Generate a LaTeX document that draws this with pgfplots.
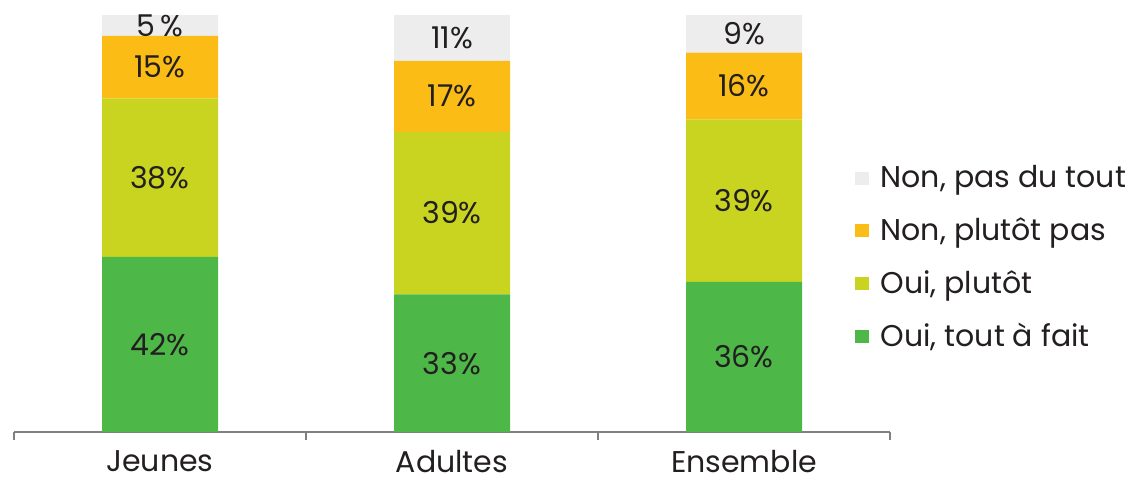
\documentclass[border=0pt]{standalone}
\usepackage{fontspec}
\setmainfont{Poppins}
\usepackage{pgfplots}
\pgfplotsset{compat=1.18}
\definecolor{cGreen}{HTML}{4DB848}
\definecolor{cLime}{HTML}{C8D41F}
\definecolor{cOrange}{HTML}{FBBC16}
\definecolor{cGrey}{HTML}{EDEDED}
\definecolor{cText}{HTML}{231F20}
\definecolor{cAxis}{HTML}{808080}
\begin{document}
\begin{tikzpicture}
\useasboundingbox (-7pt,-23pt) rectangle (557.5pt,216pt);
\begin{axis}[
  at={(0,0)}, anchor=origin,
  scale only axis, width=438pt, height=208.5pt,
  xmin=0, xmax=3, ymin=0, ymax=100,
  ybar stacked, bar width=58pt,
  axis y line=none, axis x line*=bottom,
  x axis line style={draw=cAxis, line width=1pt},
  xtick={0,1,2,3}, xticklabels={},
  tick align=outside, major tick length=4pt,
  x tick style={draw=cAxis, line width=1pt},
  extra x ticks={0.5,1.5,2.5},
  extra x tick labels={Jeunes,Adultes,Ensemble},
  extra x tick style={major tick length=0pt},
  ticklabel style={font=\fontsize{15}{18}\selectfont, text=cText, inner sep=0pt, yshift=-9pt},
  point meta=explicit,
  /pgf/number format/assume math mode=true,
  nodes near coords={\pgfmathprintnumber{\pgfplotspointmeta}\%},
  every node near coord/.style={anchor=center, font=\fontsize{15}{18}\selectfont, text=cText},
  legend style={at={(rel axis cs:0.96,0.418)}, anchor=west, draw=none, fill=none,
    font=\fontsize{15}{18}\selectfont, text=cText, row sep=9.5pt,
    cells={anchor=west}, inner sep=0pt, nodes={inner xsep=6pt}},
  legend image code/.code={\fill[#1] (0pt,-3.3pt) rectangle (6.6pt,3.3pt);},
  reverse legend,
]
\addplot[fill=cGreen, draw=none] table[meta=v] {
x y v
0.5 42 42
1.5 33 33
2.5 36 36
};
\addplot[fill=cLime, draw=none] table[meta=v] {
x y v
0.5 38 38
1.5 39 39
2.5 39 39
};
\addplot[fill=cOrange, draw=none] table[meta=v] {
x y v
0.5 15 15
1.5 17 17
2.5 16 16
};
\addplot[fill=cGrey, draw=none,
  nodes near coords={\pgfmathfloattoint{\pgfplotspointmeta}\ifnum\pgfmathresult=5 5\,\%\else\pgfmathresult\%\fi}] table[meta=v] {
x y v
0.5 5 5
1.5 11 11
2.5 9 9
};
\legend{{Oui, tout à fait},{Oui, plutôt},{Non, plutôt pas},{Non, pas du tout}}
\end{axis}
\end{tikzpicture}
\end{document}
